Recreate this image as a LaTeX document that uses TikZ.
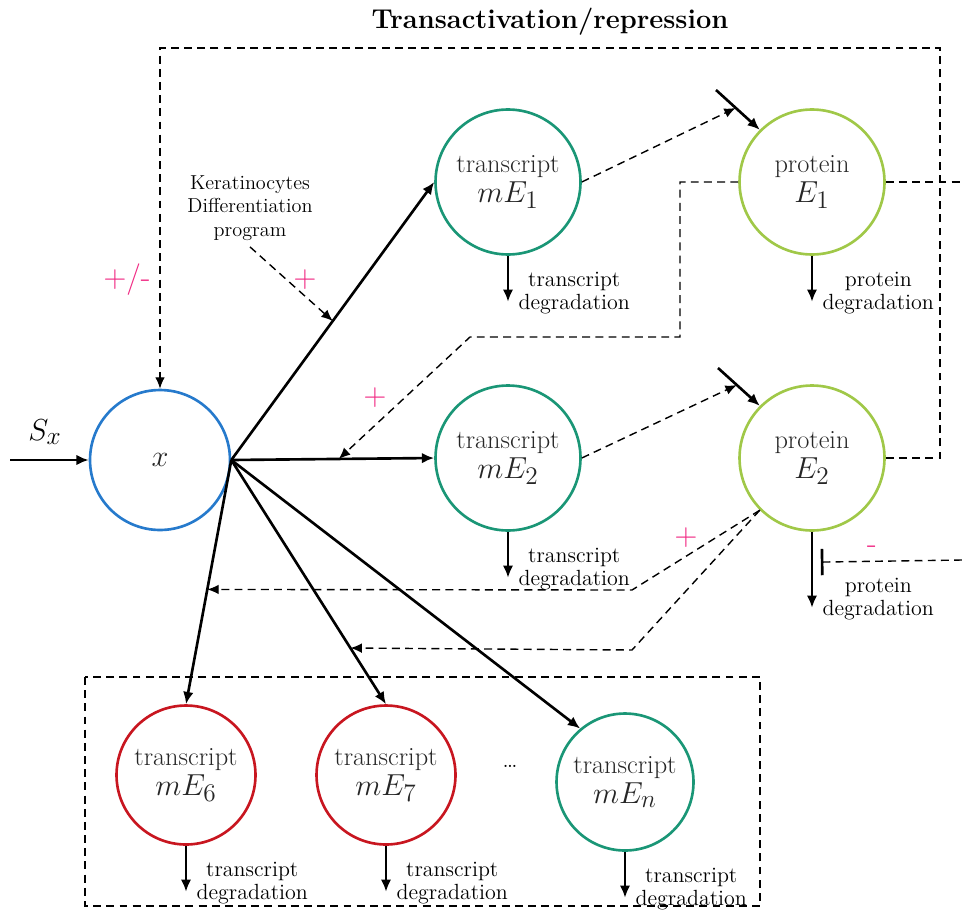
\documentclass[tikz,border=0pt]{standalone}
\usetikzlibrary{arrows.meta,positioning}

\definecolor{xblue}{RGB}{38,122,204}
\definecolor{trgreen}{RGB}{26,150,118}
\definecolor{prlime}{RGB}{160,200,72}
\definecolor{offred}{RGB}{200,22,32}
\definecolor{signpink}{RGB}{240,40,130}

\newcommand{\molsym}[1]{{\fontsize{19}{20}\selectfont$#1$}}

\begin{document}
\begin{tikzpicture}[x=0.02cm,y=-0.02cm,>={Latex[length=7pt,width=6pt]},
  mol/.style={circle,minimum size=2.9cm,inner sep=0pt,line width=1.5pt,align=center,
    text=black!85,font=\fontsize{15}{17}\selectfont},
  xmol/.style={mol,draw=xblue,minimum size=2.8cm},
  trans/.style={mol,draw=trgreen},
  prot/.style={mol,draw=prlime},
  offmol/.style={mol,draw=offred,minimum size=2.78cm},
  endmol/.style={mol,draw=trgreen,minimum size=2.74cm},
  prod/.style={->,line width=1.5pt},
  degr/.style={->,line width=1.5pt},
  reg/.style={line width=0.8pt,dash pattern=on 4.5pt off 3pt,>={Latex[length=6.5pt,width=5.5pt]}},
  degtxt/.style={anchor=west,align=center,xshift=2pt,yshift=5pt,font=\fontsize{12.5}{13.5}\selectfont},
  sign/.style={text=signpink,font=\fontsize{18}{18}\selectfont}]
\useasboundingbox (0,0) rectangle (962,909);

% molecules
\node[xmol] (x) at (160,460) {\molsym{x}};
\node[trans] (mE1) at (508,182) {transcript\\\molsym{mE_1}};
\node[prot] (E1) at (812,182) {protein\\\molsym{E_1}};
\node[trans] (mE2) at (508,458) {transcript\\\molsym{mE_2}};
\node[prot] (E2) at (812,458) {protein\\\molsym{E_2}};
\node[offmol] (mE6) at (186,775) {transcript\\\molsym{mE_6}};
\node[offmol] (mE7) at (386,775) {transcript\\\molsym{mE_7}};
\node[endmol] (mEn) at (625,782) {transcript\\\molsym{mE_n}};
\node[font=\fontsize{15}{15}\selectfont] (dots) at (510,766) {\dots};
\draw[reg] (85,677) rectangle (760,906);

% labels
\node[font=\fontsize{15.5}{17}\selectfont\bfseries] (ttl) at (550,22) {Transactivation/repression};
\node[align=center,font=\fontsize{11.5}{13.5}\selectfont] (kera) at (250,208) {Keratinocytes\\Differentiation\\program};
\node[font=\fontsize{19}{20}\selectfont] (sx) at (45,432) {$S_x$};
\node[sign] (pm) at (127,280) {+/-};
\node[sign] (plus1) at (305,280) {+};
\node[sign] (plus2) at (375,398) {+};
\node[sign] (plus3) at (686,538) {+};
\node[sign] (minus) at (872,550) {-};

% input and transcription
\coordinate (sin) at (10,460);
\draw[prod] (sin) -- (x.west);
\draw[prod] (x.east) -- coordinate[pos=.5] (k1) (mE1.west);
\draw[prod] (x.east) -- coordinate[pos=.53] (k2) (mE2.west);
\draw[prod] (x.east) -- coordinate[pos=.53] (k6) (mE6.north);
\draw[prod] (x.east) -- coordinate[pos=.77] (k7) (mE7.north);
\draw[prod] (x.east) -- (mEn.130);

% translation
\coordinate (tl1) at (716,90);
\coordinate (tl2) at (718,368);
\draw[prod] (tl1) -- coordinate[pos=.45] (t1) (E1.north west);
\draw[prod] (tl2) -- coordinate[pos=.45] (t2) (E2.north west);
\draw[reg,->] (mE1.east) -- (t1);
\draw[reg,->] (mE2.east) -- (t2);

% degradation
\foreach \n/\t in {mE1/transcript,E1/protein,mE2/transcript,mE6/transcript,mE7/transcript,mEn/transcript}
  \draw[degr] (\n.south) -- ++(0,46) node[degtxt] {\t\\degradation};
\draw[degr] (E2.south) -- coordinate[pos=.4] (inh) ++(0,76) node[degtxt] {protein\\degradation};

% regulation
\coordinate (rim1) at (962,182);
\coordinate (rim2) at (962,560);
\draw[reg,->] (kera.south) -- (k1);
\draw[reg,->] (E1.west) -| (680,337) -- (470,337) -- (k2);
\draw[reg] (E1.east) -- (rim1);
\draw[reg,->] (E2.east) -| (940,48) -| (x.north);
\draw[reg,->] (E2.south west) -- (632,590) -- (k6);
\draw[reg,->] (E2.south west) -- (632,650) -- (k7);
\draw[reg,-{Bar[width=15pt,line width=1.5pt]},shorten >=5pt] (rim2) -- (inh);
\end{tikzpicture}
\end{document}
